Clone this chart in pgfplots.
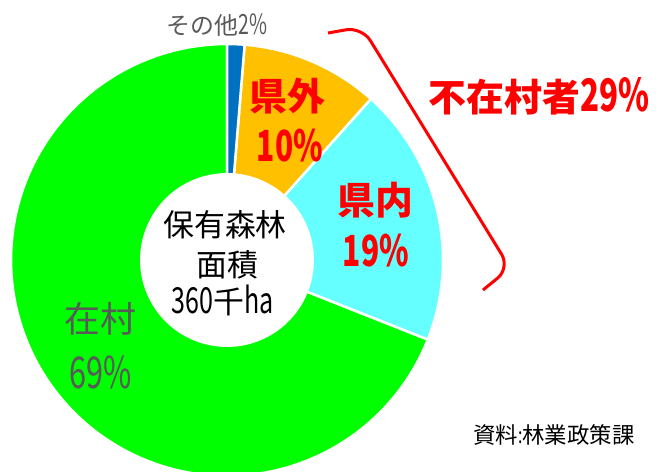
\documentclass[border=0pt]{standalone}
\usepackage{pgfplots}
\pgfplotsset{compat=1.18}
\usepackage{fontspec}
\setmainfont{Noto Sans CJK JP}
\newfontfamily\narrow[FakeStretch=0.7]{Noto Sans CJK JP}
\definecolor{cOther}{HTML}{0070C0}
\definecolor{cOut}{HTML}{FFC000}
\definecolor{cIn}{HTML}{66FFFF}
\definecolor{cVil}{HTML}{00FF00}
\definecolor{cGray}{HTML}{595959}
\definecolor{cRed}{HTML}{FF0000}
% shares of holdings (%): other, outside prefecture, inside prefecture, in village
\def\vA{1.3}\def\vB{10.3}\def\vC{19.4}\def\vD{69.0}
\def\cx{227}\def\cy{212}\def\R{216}\def\r{87}
\begin{document}
\begin{tikzpicture}
\useasboundingbox (0,0) rectangle (664bp,472bp);
\pgfmathsetmacro{\aA}{90}
\pgfmathsetmacro{\aB}{90-3.6*\vA}
\pgfmathsetmacro{\aC}{\aB-3.6*\vB}
\pgfmathsetmacro{\aD}{\aC-3.6*\vC}
\pgfmathsetmacro{\aE}{\aD-3.6*\vD}
\begin{axis}[at={(0,0)}, anchor=south west, scale only axis,
  width=664bp, height=472bp, xmin=0, xmax=664, ymin=0, ymax=472,
  hide axis, clip=true]
\addplot[fill=cVil, draw=white, line width=2.5bp, domain=\aE:\aD, samples=120, variable=\t]
  ({\cx+\R*cos(t)},{\cy+\R*sin(t)}) -- (axis cs:\cx,\cy) -- cycle;
\addplot[fill=cIn, draw=white, line width=2.5bp, domain=\aD:\aC, samples=50, variable=\t]
  ({\cx+\R*cos(t)},{\cy+\R*sin(t)}) -- (axis cs:\cx,\cy) -- cycle;
\addplot[fill=cOut, draw=white, line width=2.5bp, domain=\aC:\aB, samples=40, variable=\t]
  ({\cx+\R*cos(t)},{\cy+\R*sin(t)}) -- (axis cs:\cx,\cy) -- cycle;
\addplot[fill=cOther, draw=white, line width=2.5bp, domain=\aB:\aA, samples=10, variable=\t]
  ({\cx+\R*cos(t)},{\cy+\R*sin(t)}) -- (axis cs:\cx,\cy) -- cycle;
\addplot[fill=white, draw=none, domain=0:360, samples=100, variable=\t]
  ({\cx+\r*cos(t)},{\cy+\r*sin(t)}) -- cycle;
% labels
\node[inner sep=0, text=cGray] at (axis cs:217,447) {\fontsize{24}{26}\selectfont その他{\fontsize{28}{30}\selectfont\narrow 2\%}};
\node[inner sep=0, text=cRed] at (axis cs:287,376) {\fontsize{38}{40}\selectfont\bfseries 県外};
\node[inner sep=0, text=cRed] at (axis cs:290,326) {\fontsize{43}{45}\selectfont\bfseries\narrow 10\%};
\node[inner sep=0, text=cRed] at (axis cs:375,272) {\fontsize{38}{40}\selectfont\bfseries 県内};
\node[inner sep=0, text=cRed] at (axis cs:376,221) {\fontsize{43}{45}\selectfont\bfseries\narrow 19\%};
\node[inner sep=0, text=cGray] at (axis cs:100,153) {\fontsize{36}{38}\selectfont 在村};
\node[inner sep=0, text=cGray] at (axis cs:101,100) {\fontsize{44}{46}\selectfont\narrow 69\%};
\node[inner sep=0, text=black] at (axis cs:225,247) {\fontsize{31}{33}\selectfont 保有森林};
\node[inner sep=0, text=black] at (axis cs:227,207) {\fontsize{31}{33}\selectfont 面積};
\node[inner sep=0, text=black] at (axis cs:223,172) {\fontsize{31}{33}\selectfont{\fontsize{36}{38}\selectfont\narrow 360}千{\fontsize{36}{38}\selectfont\narrow ha}};
\node[inner sep=0, text=cRed] at (axis cs:539,376) {\fontsize{38}{40}\selectfont\bfseries 不在村者{\fontsize{45}{47}\selectfont\narrow 29\%}};
\node[inner sep=0, text=black] at (axis cs:554,37) {\fontsize{22.5}{24}\selectfont 資料{\narrow :}林業政策課};
\draw[cRed, line width=3bp, rounded corners=16bp] (axis cs:328,439) -- (axis cs:362,445) -- (axis cs:510,204) -- (axis cs:483,182);
\end{axis}
\end{tikzpicture}
\end{document}
